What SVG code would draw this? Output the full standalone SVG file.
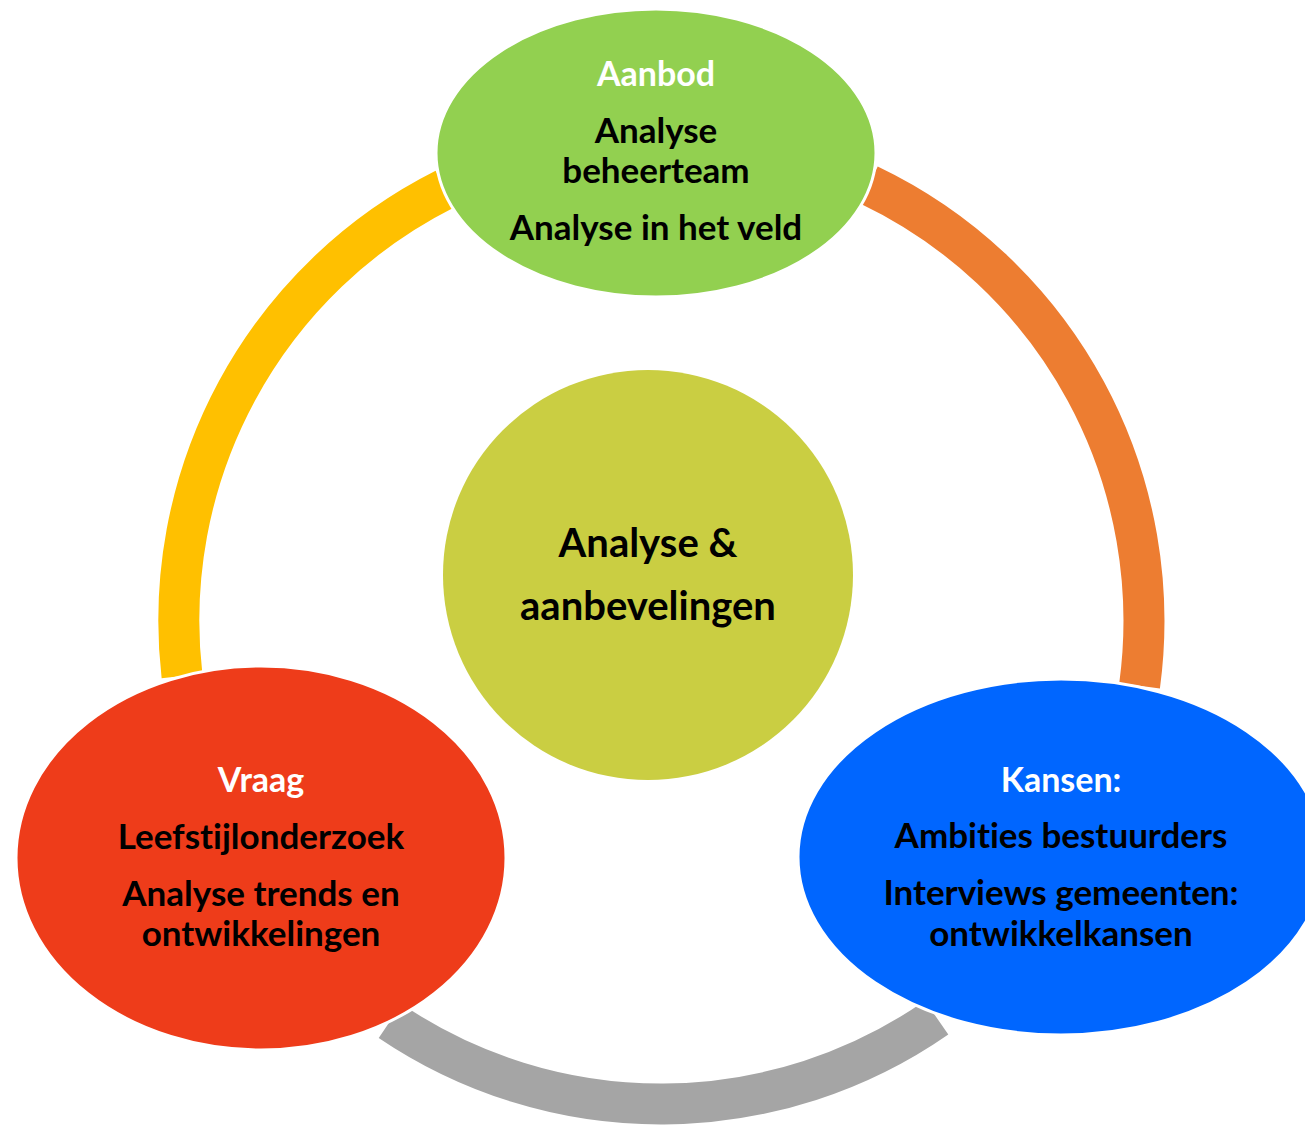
<svg xmlns="http://www.w3.org/2000/svg" width="1305" height="1125" viewBox="0 0 1305 1125">
<style>
.seg{fill:none;stroke-width:41;stroke-linecap:butt}
.node{stroke:#ffffff;stroke-width:3}
text{font-family:Lato,"Liberation Sans",sans-serif;font-weight:bold;text-anchor:middle;font-variant-ligatures:none;font-feature-settings:"liga" 0,"dlig" 0}
.t{font-size:35px;fill:#000000}
.h{font-size:34px;fill:#ffffff}
.c{font-size:40px;fill:#000000}
</style>
<rect width="1305" height="1125" fill="#ffffff"/>
<g id="connectors">
<path class="seg" stroke="#FFC000" d="M182,676 A483,483 0 0 1 444.8,189.1"/>
<path class="seg" stroke="#ED7D31" d="M868.9,185 A483,483 0 0 1 1139.6,685.7"/>
<path class="seg" stroke="#A5A5A5" d="M936.6,1017.6 A483,483 0 0 1 390.2,1021"/>
</g>
<g id="center">
<circle cx="648" cy="575" r="205" fill="#CACE42"/>
<text class="c" x="648" y="557">Analyse &amp;</text>
<text class="c" x="648" y="620">aanbevelingen</text>
</g>
<g id="aanbod">
<ellipse class="node" cx="656" cy="153" rx="220" ry="144" fill="#92D050"/>
<text class="h" x="656" y="86">Aanbod</text>
<text class="t" x="656" y="143">Analyse</text>
<text class="t" x="656" y="183">beheerteam</text>
<text class="t" x="656" y="240">Analyse in het veld</text>
</g>
<g id="vraag">
<ellipse class="node" cx="261" cy="858" rx="245" ry="192" fill="#EE3C1A"/>
<text class="h" x="261" y="792">Vraag</text>
<text class="t" x="261" y="849">Leefstijlonderzoek</text>
<text class="t" x="261" y="906">Analyse trends en</text>
<text class="t" x="261" y="946">ontwikkelingen</text>
</g>
<g id="kansen">
<ellipse class="node" cx="1061" cy="857" rx="263" ry="178" fill="#0066FF"/>
<text class="h" x="1061" y="792">Kansen:</text>
<text class="t" x="1061" y="848">Ambities bestuurders</text>
<text class="t" x="1061" y="905">Interviews gemeenten:</text>
<text class="t" x="1061" y="946">ontwikkelkansen</text>
</g>
</svg>
